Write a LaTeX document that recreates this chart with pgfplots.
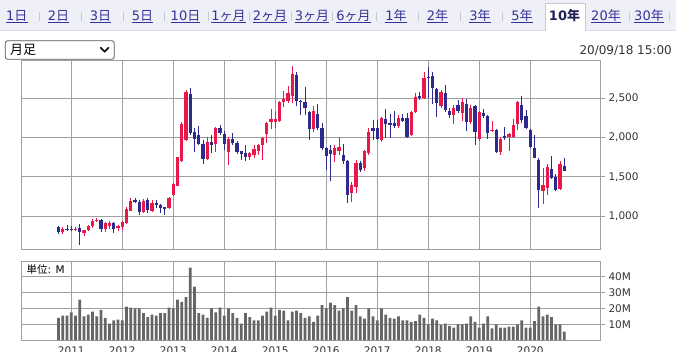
\documentclass[border=0pt]{standalone}
\usepackage{pgfplots}
\pgfplotsset{compat=1.18}
\usepackage{pgfplotstable}
\usepackage{fontspec}
\setmainfont{DejaVu Sans}
\newfontfamily\jp{Noto Sans CJK JP}
\definecolor{cred}{HTML}{E8184A}
\definecolor{cblue}{HTML}{2C2A8C}
\definecolor{vgray}{HTML}{666666}
\definecolor{gridc}{HTML}{A0A0A0}
\definecolor{tabbg}{HTML}{EFEFF7}
\definecolor{tabline}{HTML}{DCDCE8}
\definecolor{tabc}{HTML}{333399}
\definecolor{selc}{HTML}{222255}
\definecolor{sepc}{HTML}{C8C8D4}
\definecolor{ddc}{HTML}{555555}
\definecolor{labc}{HTML}{333333}
\newcommand\fsz[1]{\fontsize{#1}{#1}\selectfont}

\pgfplotstableread{
m O H L C
10 797 860 780 843
13 822 870 815 840
15 790 830 755 832
16 830 895 818 877
17 877 970 852 937
18 937 980 925 955
20 843 928 805 915
21 880 945 840 912
23 847 895 810 873
24 865 937 830 925
25 915 1118 907 1090
26 1072 1233 1063 1200
29 1055 1220 1045 1195
31 1065 1208 1050 1170
35 1100 1250 1093 1237
36 1271 1420 1263 1407
37 1390 1758 1381 1746
38 1695 2195 1686 2174
39 1970 2597 1958 2572
44 1729 2000 1716 1941
46 1915 2127 1814 2119
49 1809 2000 1653 1983
54 1746 1814 1716 1801
55 1780 1898 1737 1850
56 1822 1915 1780 1898
57 1898 2010 1716 1992
58 2042 2195 1928 2182
59 2190 2364 2110 2230
60 2200 2330 2119 2240
61 2203 2466 2195 2445
62 2445 2585 2390 2492
63 2458 2648 2436 2560
64 2521 2902 2441 2800
69 2103 2394 2073 2335
74 1780 1900 1690 1864
75 1830 2000 1771 1873
78 1299 1439 1185 1397
79 1375 1714 1299 1680
81 1608 1843 1580 1832
82 1799 2116 1780 2073
85 1967 2260 1940 2250
89 2145 2288 2124 2251
92 2030 2339 2021 2323
93 2323 2569 2309 2514
95 2505 2830 2484 2750
99 2399 2606 2378 2581
102 2284 2407 2166 2378
104 2314 2500 2203 2450
106 2191 2415 2170 2373
108 1983 2330 1958 2318
111 2076 2203 2068 2097
113 1809 2000 1780 1979
115 2000 2055 1822 2042
116 2000 2233 1992 2161
117 2174 2458 2097 2445
123 1322 1610 1153 1398
124 1356 1661 1271 1631
127 1347 1695 1335 1661
}\upc

\pgfplotstableread{
m O H L C
9 860 873 780 797
11 843 886 810 828
12 838 880 810 822
14 852 900 630 800
19 955 960 797 843
22 912 924 788 835
27 1210 1233 1170 1178
28 1182 1212 1020 1050
30 1206 1233 1042 1075
32 1170 1208 1102 1148
33 1148 1157 1038 1110
34 1112 1123 1017 1095
40 2551 2627 2025 2055
41 2064 2119 1814 1979
42 2025 2140 1898 1920
43 1920 1970 1665 1729
45 1941 2025 1800 1907
47 2119 2161 2034 2055
48 2042 2085 1843 1915
50 1979 2055 1898 1928
51 1928 1949 1788 1814
52 1822 1830 1716 1792
53 1801 1898 1703 1746
65 2797 2830 2394 2458
66 2466 2479 2284 2445
67 2449 2643 2288 2373
68 2322 2330 1967 2103
70 2297 2424 2094 2116
71 2119 2182 1841 1862
72 1862 1883 1587 1769
73 1841 1900 1451 1790
76 1781 1917 1663 1697
77 1705 1714 1165 1266
80 1680 1703 1560 1587
83 2116 2221 1967 2086
84 2116 2225 1967 1980
86 2230 2356 1996 2166
87 2187 2293 1996 2158
88 2187 2335 2124 2150
90 2251 2300 2195 2208
91 2251 2314 1988 2005
94 2526 2581 2471 2497
96 2767 2894 2505 2750
97 2780 2835 2420 2632
98 2611 2632 2259 2441
100 2569 2666 2327 2344
101 2335 2378 2251 2284
103 2407 2479 2309 2330
105 2424 2491 2076 2191
107 2394 2407 1898 2068
109 2309 2364 2246 2267
110 2267 2280 1983 2055
112 2097 2110 1801 1809
114 2013 2127 1970 1992
118 2407 2530 2182 2225
119 2275 2352 2110 2119
120 2097 2110 1864 1873
121 1864 2034 1737 1745
122 1716 1737 1102 1335
125 1597 1763 1475 1483
126 1504 1534 1322 1335
128 1644 1737 1568 1576
}\downc

\pgfplotstableread{
m V
9 14
10 15.5
11 15.5
12 17.5
13 15.5
14 25.5
15 15
16 16
17 18
18 15
19 19
20 14
21 10.5
22 12.5
23 13
24 12.5
25 21
26 20.5
27 20
28 20
29 17
30 14.5
31 16
32 15.5
33 17
34 17
35 20.5
36 20
37 25.5
38 24
39 27
40 45.5
41 33.5
42 17
43 16
44 14
45 20
46 17.5
47 20.5
48 15.5
49 20
50 17
51 14
52 10.5
53 17
54 14.5
55 12.5
56 12.5
57 15.5
58 18
59 20.5
60 15.5
61 19
62 18.5
63 12.5
64 18
65 18.5
66 17
67 14
68 15
69 11.5
70 15.5
71 22
72 20
73 23.5
74 22
75 18.5
76 20
77 27
78 18.5
79 22
80 15
81 13.5
82 20
83 15
84 12.5
85 20
86 16
87 14
88 13.5
89 15
90 12.5
91 12.5
92 11.5
93 12
94 16
95 14
96 10
97 13.5
98 12.5
99 9.5
100 10.5
101 9
102 8
103 10
104 10
105 10.5
106 15
107 11.5
108 8
109 10.5
110 15
111 7.5
112 10
113 8
114 8
115 8.5
116 8.5
117 10
118 12.5
119 8
120 8
121 12
122 21
123 15
124 16
125 14.5
126 10
127 10
128 5.5
}\volt

\pgfplotsset{
  chart/.style={
    scale only axis, width=578.7pt,
    xmin=0.235, xmax=136.4,
    xtick={12,24,...,120},
    x tick style={draw=none},
    ytick pos=right, tick align=outside,
    major tick length=5pt,
    y tick style={gridc, line width=0.8pt},
    grid=major,
    grid style={gridc, line width=0.8pt},
    axis line style={gridc, line width=0.8pt},
    ticklabel style={font=\fsz{10.5}, text=labc},
    yticklabel style={anchor=west},
    clip=true,
  },
}

\begin{document}
\begin{tikzpicture}[x=1pt,y=1pt]
\path[use as bounding box] (0,0) rectangle (676,352);
\fill[white] (0,0) rectangle (676,352);
% tab bar
\fill[tabbg] (0,321) rectangle (676,352);
\draw[tabline, line width=0.8] (0,321.2) -- (676,321.2);
\fill[white] (545,320.6) rectangle (585,349);
\draw[sepc, line width=0.8] (545,320.8) -- (545,349) -- (585,349) -- (585,320.8);
\foreach \x/\t in {16.7/1{\jp 日}, 58.5/2{\jp 日}, 100.5/3{\jp 日}, 142.5/5{\jp 日},
  185.5/10{\jp 日}, 228.5/1{\jp ヶ月}, 270/2{\jp ヶ月}, 312/3{\jp ヶ月}, 353.5/6{\jp ヶ月},
  396/1{\jp 年}, 437.5/2{\jp 年}, 480/3{\jp 年}, 522/5{\jp 年}, 606/20{\jp 年}, 649/30{\jp 年}}{
  \node[anchor=base, inner sep=0, text=tabc, font=\fsz{13}] (n) at (\x,331) {\t};
  \draw[tabc, line width=0.6] ([yshift=-1.6pt]n.base west) -- ([yshift=-1.6pt]n.base east);
}
\foreach \x in {39,81,123,164.5,208,249,291,332.5,376,418,460,502,629,669}{
  \draw[sepc, line width=0.7] (\x,331) -- (\x,340);
}
\node[anchor=base, inner sep=0, text=selc, font=\fsz{13}\bfseries] at (564.5,331) {10{\jp 年}};
% dropdown
\draw[rounded corners=2.5pt, line width=0.8, ddc, fill=white] (5.3,292.7) rectangle (114.3,311.3);
\node[anchor=west, inner sep=0, font=\fsz{13}\jp, text=black] at (10,302) {月足};
\draw[line width=1.6, black, line cap=round] (100.8,304.3) -- (104.7,300.4) -- (108.6,304.3);
% date
\node[anchor=base east, inner sep=0, font=\fsz{12}, text=labc] at (672,297.5) {20/09/18 15:00};

% price axis
\begin{axis}[chart, at={(21.3pt,102.3pt)}, anchor=south west, height=189pt,
  ymin=576.5, ymax=2973,
  xticklabels={},
  ytick={1000,1500,2000,2500},
  yticklabels={{1,000},{1,500},{2,000},{2,500}},
]
% wicks (high to low) and bodies (open to close)
\addplot[cred, line width=1.05pt, mark=none, -, quiver={u=0, v=\thisrow{L}-\thisrow{H}}] table[x=m, y=H] {\upc};
\addplot[cred, line width=3.3pt, mark=none, -, quiver={u=0, v=\thisrow{O}-\thisrow{C}}] table[x=m, y=C] {\upc};
\addplot[cblue, line width=1.05pt, mark=none, -, quiver={u=0, v=\thisrow{L}-\thisrow{H}}] table[x=m, y=H] {\downc};
\addplot[cblue, line width=3.3pt, mark=none, -, quiver={u=0, v=\thisrow{C}-\thisrow{O}}] table[x=m, y=O] {\downc};
\end{axis}

% volume axis
\begin{axis}[chart, at={(21.3pt,11.7pt)}, anchor=south west, height=79.3pt,
  ymin=0, ymax=49.6,
  xticklabels={2011,2012,2013,2014,2015,2016,2017,2018,2019,2020},
  xticklabel style={anchor=base, yshift=-9pt, inner sep=0pt},
  ytick={10,20,30,40},
  yticklabels={10M,20M,30M,40M},
]
\addplot[ybar, bar width=2.8pt, fill=vgray, draw=none] table[x=m, y=V] {\volt};
\end{axis}
\node[anchor=west, inner sep=0, font=\fsz{10.5}, text=black] at (26.5,82) {{\jp 単位}: M};
\end{tikzpicture}
\end{document}
